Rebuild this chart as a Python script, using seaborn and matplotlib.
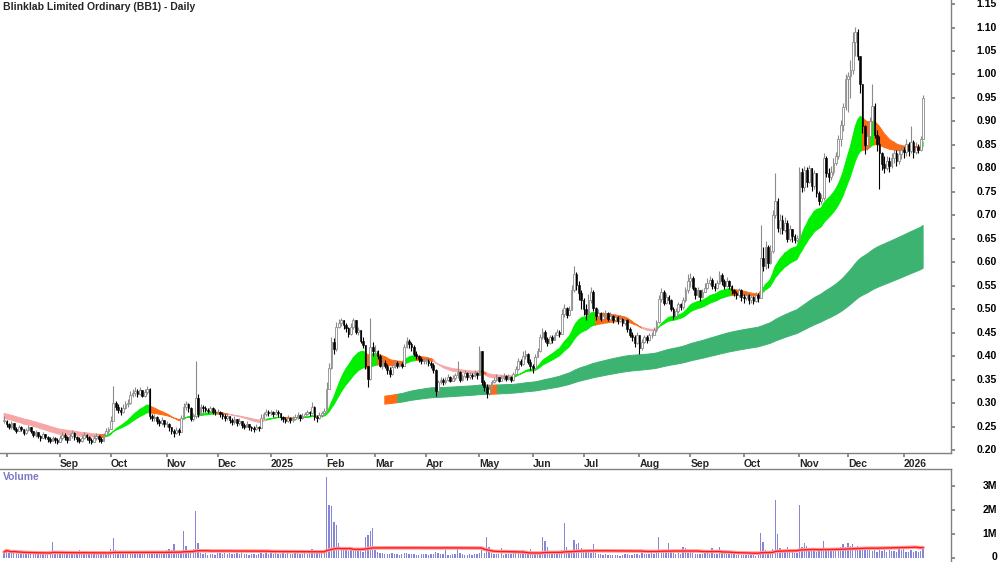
import numpy as np
import pandas as pd
import matplotlib
matplotlib.use("Agg")
import matplotlib.pyplot as plt
import seaborn as sns

TITLE = "Blinklab Limited Ordinary (BB1) - Daily"
START_DATE = "2024-07-31"

# daily prices in thousandths of a dollar (open = previous close)
close_px = [
    262, 255, 248, 258, 245, 240, 250, 244, 236, 242, 248, 240, 232, 238, 230, 226, 234, 228, 224, 220, 226, 222, 218,  # Jul31/Aug 24
    225, 232, 228, 222, 230, 236, 228, 224, 220, 226, 232, 228, 222, 218, 226, 230, 224, 220, 232, 240, 244,  # Sep
    262, 300, 292, 285, 280, 290, 298, 300, 318, 322, 326, 320, 328, 316, 324, 330, 272, 268, 270, 262, 258, 264, 256,  # Oct
    256, 248, 240, 236, 242, 238, 268, 292, 298, 290, 266, 272, 310, 276, 292, 290, 286, 284, 290, 282, 280,  # Nov
    282, 276, 272, 268, 272, 264, 260, 266, 258, 262, 254, 250, 256, 248, 246, 244, 250, 246, 268, 276, 282, 278,  # Dec
    280, 276, 282, 278, 270, 266, 262, 268, 264, 266, 270, 274, 268, 272, 276, 280, 278, 292, 270, 268, 274, 278, 284,  # Jan 25
    330, 375, 430, 415, 462, 470, 476, 466, 460, 448, 462, 476, 452, 456, 432, 424, 380, 352, 420, 410,  # Feb
    412, 400, 380, 386, 380, 370, 362, 376, 386, 380, 384, 380, 420, 432, 426, 420, 404, 400, 394, 390, 390,  # Mar
    390, 386, 382, 370, 326, 344, 350, 344, 350, 356, 348, 354, 360, 366, 350, 358, 364, 356, 360, 358, 364, 360,  # Apr
    410, 345, 334, 322, 330, 344, 350, 356, 348, 354, 358, 352, 356, 350, 362, 372, 390, 384, 400, 404, 388, 378,  # May
    374, 398, 410, 440, 452, 436, 428, 440, 434, 446, 452, 448, 490, 502, 488, 498, 540, 575, 552, 534, 520,  # Jun
    500, 490, 520, 536, 502, 486, 492, 480, 486, 492, 480, 486, 478, 484, 474, 480, 470, 476, 458, 446, 440, 428, 444,  # Jul
    418, 430, 440, 434, 444, 446, 456, 472, 522, 536, 514, 526, 520, 500, 486, 496, 510, 504, 520, 540, 560,  # Aug
    566, 546, 530, 540, 526, 536, 546, 556, 562, 550, 546, 556, 572, 560, 550, 560, 550, 540, 534, 530, 540, 526,  # Sep
    524, 530, 520, 526, 518, 530, 524, 610, 592, 632, 598, 624, 700, 730, 672, 690, 668, 684, 650, 670, 655, 648, 652,  # Oct
    792, 760, 796, 772, 800, 762, 790, 748, 730, 736, 822, 790, 782, 792, 812, 826, 862, 892, 930, 990,  # Nov
    996, 1010, 1070, 1090, 1040, 980, 890, 850, 868, 900, 932, 872, 852, 832, 810, 800, 816, 806, 822, 832, 816, 830, 840,  # Dec
    834, 852, 838, 856, 834, 846, 840, 862, 950,  # Jan 26
]
high_px = [
    272, 264, 258, 262, 258, 250, 254, 252, 244, 246, 254, 250, 240, 242, 238, 232, 238, 235, 230, 228, 230, 228, 226,
    232, 238, 236, 230, 236, 242, 238, 230, 228, 232, 238, 235, 230, 226, 232, 236, 232, 228, 236, 246, 250,
    272, 336, 305, 298, 292, 298, 304, 308, 325, 330, 334, 330, 334, 328, 330, 336, 332, 276, 276, 272, 266, 270, 265,
    262, 258, 250, 244, 248, 246, 274, 300, 304, 300, 292, 278, 390, 320, 298, 296, 294, 290, 294, 292, 288,
    288, 284, 280, 276, 278, 272, 268, 272, 266, 268, 262, 258, 262, 256, 252, 252, 256, 252, 276, 282, 288, 286,
    286, 284, 288, 286, 278, 272, 270, 274, 270, 272, 276, 280, 276, 278, 282, 286, 284, 302, 294, 274, 280, 284, 290,
    345, 385, 440, 438, 472, 480, 482, 478, 470, 462, 470, 482, 478, 462, 452, 440, 424, 372, 482, 430,
    424, 414, 404, 396, 392, 384, 376, 382, 392, 390, 390, 388, 426, 440, 436, 430, 424, 410, 402, 398, 396,
    398, 394, 390, 386, 372, 350, 356, 354, 356, 362, 358, 360, 364, 390, 368, 362, 370, 366, 366, 364, 370, 366,
    422, 400, 350, 340, 338, 350, 356, 362, 356, 360, 364, 360, 362, 358, 366, 378, 396, 394, 410, 414, 406, 394,
    384, 404, 418, 448, 460, 456, 440, 446, 444, 452, 458, 456, 500, 512, 504, 506, 552, 592, 580, 560, 540,
    524, 512, 532, 548, 540, 504, 500, 494, 494, 498, 494, 494, 488, 490, 486, 488, 482, 482, 480, 462, 452, 446, 452,
    432, 436, 446, 444, 450, 452, 462, 478, 530, 545, 540, 534, 530, 522, 504, 502, 516, 514, 526, 548, 575,
    578, 570, 548, 548, 540, 544, 556, 566, 570, 566, 556, 562, 582, 578, 564, 568, 562, 552, 544, 538, 546, 544,
    532, 536, 532, 532, 528, 536, 534, 680, 632, 646, 636, 636, 712, 790, 736, 702, 700, 696, 690, 680, 670, 660, 658,
    802, 800, 804, 802, 808, 800, 796, 788, 752, 746, 832, 826, 800, 804, 822, 834, 872, 904, 940, 1000,
    1005, 1030, 1090, 1102, 1096, 1040, 970, 892, 880, 910, 980, 940, 882, 870, 834, 826, 826, 824, 832, 842, 840, 842, 850,
    846, 862, 856, 890, 860, 856, 852, 870, 956,
]
low_px = [
    258, 250, 244, 244, 242, 236, 240, 240, 232, 234, 240, 236, 228, 228, 226, 220, 226, 224, 218, 215, 220, 216, 212,
    218, 222, 222, 216, 222, 226, 222, 218, 214, 218, 224, 222, 216, 212, 218, 222, 218, 214, 222, 230, 236,
    244, 262, 286, 278, 274, 278, 288, 292, 298, 312, 316, 312, 318, 312, 314, 320, 266, 262, 262, 256, 252, 254, 250,
    248, 240, 234, 228, 234, 232, 238, 266, 286, 282, 262, 262, 268, 270, 274, 282, 280, 278, 280, 276, 274,
    276, 270, 266, 262, 264, 258, 254, 256, 252, 254, 246, 244, 248, 242, 240, 238, 242, 240, 246, 266, 272, 272,
    274, 270, 274, 270, 264, 260, 258, 260, 258, 260, 264, 266, 262, 266, 270, 274, 272, 276, 264, 260, 266, 270, 276,
    300, 330, 372, 405, 412, 460, 464, 458, 452, 440, 446, 458, 448, 446, 428, 418, 372, 334, 350, 400,
    400, 394, 376, 372, 374, 362, 356, 360, 374, 374, 376, 374, 380, 418, 418, 412, 400, 394, 388, 384, 384,
    384, 380, 374, 364, 316, 322, 340, 338, 340, 346, 344, 346, 350, 354, 344, 346, 354, 350, 352, 352, 356, 352,
    360, 338, 326, 310, 318, 328, 342, 346, 344, 346, 350, 346, 350, 344, 348, 360, 370, 378, 382, 394, 384, 370,
    364, 370, 398, 408, 436, 430, 422, 426, 428, 436, 444, 440, 450, 484, 482, 486, 498, 536, 540, 520, 500,
    488, 478, 486, 514, 496, 478, 480, 474, 476, 482, 474, 476, 470, 474, 468, 472, 464, 466, 452, 440, 432, 420, 426,
    404, 414, 428, 428, 432, 438, 444, 452, 470, 516, 508, 510, 512, 496, 480, 484, 492, 498, 500, 516, 534,
    548, 540, 522, 526, 518, 524, 536, 544, 552, 544, 538, 544, 554, 552, 544, 548, 544, 532, 528, 522, 526, 518,
    514, 520, 512, 514, 512, 516, 516, 540, 582, 586, 588, 596, 620, 694, 664, 660, 660, 664, 644, 646, 644, 640, 644,
    660, 750, 752, 760, 768, 752, 756, 740, 722, 724, 732, 782, 772, 776, 786, 808, 820, 848, 880, 924,
    920, 950, 1000, 1040, 1030, 960, 876, 830, 840, 862, 880, 864, 838, 755, 796, 790, 796, 792, 800, 812, 806, 810, 820,
    822, 826, 826, 832, 822, 830, 832, 836, 862,
]
# daily volume in thousands of shares
volume_k = [
    230, 350, 210, 170, 300, 190, 160, 200, 140, 180, 220, 150, 170, 130, 190, 160, 140, 180, 200, 150, 650, 210, 170,
    160, 190, 140, 170, 210, 150, 130, 180, 300, 200, 160, 140, 170, 190, 150, 130, 160, 140, 180, 170, 210,
    350, 800, 300, 230, 250, 200, 220, 270, 210, 230, 190, 250, 220, 200, 240, 210, 260, 230, 200, 220, 250, 210, 240,
    300, 350, 320, 550, 200, 180, 250, 1100, 500, 200, 260, 350, 1950, 600, 180, 150, 200, 120, 140, 160, 110,
    180, 200, 150, 170, 140, 190, 160, 130, 170, 150, 180, 140, 160, 120, 150, 130, 110, 140, 190, 160, 170, 150,
    170, 150, 190, 160, 140, 180, 150, 170, 130, 160, 180, 300, 150, 140, 170, 160, 190, 350, 210, 170, 190, 200, 230,
    3400, 2200, 2150, 1500, 1350, 600, 400, 350, 300, 280, 320, 350, 260, 300, 280, 250, 850, 950, 1100, 1250,
    300, 220, 180, 200, 160, 150, 140, 170, 130, 150, 120, 160, 200, 180, 150, 130, 140, 120, 110, 150, 130,
    140, 120, 150, 160, 250, 180, 130, 140, 300, 120, 110, 130, 150, 350, 180, 130, 120, 110, 140, 120, 130, 150,
    200, 300, 180, 850, 450, 200, 150, 140, 160, 400, 120, 130, 140, 150, 200, 300, 180, 160, 300, 200, 180, 350,
    200, 220, 180, 240, 850, 700, 450, 200, 180, 160, 200, 150, 300, 1450, 450, 250, 220, 750, 550, 600, 400,
    300, 250, 280, 200, 550, 180, 160, 140, 120, 130, 100, 90, 110, 120, 100, 80, 110, 130, 150, 120, 100, 140, 160,
    120, 180, 150, 130, 160, 200, 140, 180, 850, 300, 250, 200, 600, 220, 180, 150, 170, 140, 450, 380, 200,
    220, 180, 160, 150, 130, 140, 170, 190, 160, 380, 150, 140, 450, 200, 180, 160, 140, 150, 130, 120, 140, 110,
    120, 100, 90, 110, 100, 80, 120, 1050, 650, 300, 250, 200, 350, 2400, 1000, 400, 300, 250, 450, 300, 250, 200, 180,
    2200, 450, 600, 500, 350, 300, 280, 250, 300, 260, 700, 350, 300, 280, 320, 350, 400, 450, 550, 450,
    600, 500, 550, 450, 500, 420, 380, 350, 300, 330, 280, 300, 250, 450, 280, 320, 250, 300, 260, 280, 240, 350, 300,
    350, 250, 220, 300, 250, 280, 230, 260, 450,
]

# indicator settings (ribbons of exponential moving averages)
SHORT_SPANS = (20, 35)
SHORT_SEEDS = (0.268, 0.279)
LONG_SPANS = (150, 250)
LONG_SEEDS = (0.30, 0.28)
LONG_BAND_START = "2025-03-07"
PINK_RANGES = [("2024-07-31", "2024-09-23"), ("2024-12-06", "2024-12-27"),
               ("2025-04-04", "2025-04-30"), ("2025-05-06", "2025-05-20"),
               ("2025-08-04", "2025-08-11")]
LONG_ORANGE_RANGES = [("2025-03-07", "2025-03-13"), ("2025-05-07", "2025-05-09")]
VOLUME_MA_WINDOW = 65

price_ticks = [round(0.20 + 0.05 * k, 2) for k in range(20)]
volume_ticks = [0, 1_000_000, 2_000_000, 3_000_000]
volume_tick_labels = ["0", "1M", "2M", "3M"]

# ---------------------------------------------------------------------------
n = min(len(close_px), len(high_px), len(low_px), len(volume_k))
dates = pd.bdate_range(START_DATE, periods=n)
close = np.array(close_px[:n]) / 1000.0
high = np.array(high_px[:n]) / 1000.0
low = np.array(low_px[:n]) / 1000.0
opn = np.concatenate([[close[0]], close[:-1]])
high = np.maximum(high, np.maximum(opn, close))
low = np.minimum(low, np.minimum(opn, close))
vol = np.array(volume_k[:n]) * 1000.0
idx = np.arange(n)


def ema(values, span, seed):
    a = 2.0 / (span + 1.0)
    out = np.empty_like(values)
    prev = seed
    for k, v in enumerate(values):
        prev = prev + a * (v - prev)
        out[k] = prev
    return out


def in_ranges(ranges):
    m = np.zeros(n, dtype=bool)
    for s, e in ranges:
        m |= (dates >= pd.Timestamp(s)) & (dates <= pd.Timestamp(e))
    return m


def fill_states(ax, x, lo, hi, states, colors, z):
    for key, col in colors.items():
        m = states == key
        m2 = m.copy()
        m2[1:] |= m[:-1]
        ax.fill_between(x, lo, hi, where=m2, facecolor=col, edgecolor=col,
                        linewidth=0.7, zorder=z)


s_fast = ema(close, SHORT_SPANS[0], SHORT_SEEDS[0])
s_slow = ema(close, SHORT_SPANS[1], SHORT_SEEDS[1])
l_fast = ema(close, LONG_SPANS[0], LONG_SEEDS[0])
l_slow = ema(close, LONG_SPANS[1], LONG_SEEDS[1])

pink = in_ranges(PINK_RANGES)
rising = np.concatenate([[False], np.diff(s_fast) >= 0])
short_state = np.where(pink, "p", np.where(rising, "g", "o"))
long_orange = in_ranges(LONG_ORANGE_RANGES)
long_state = np.where(long_orange, "o", "g")
long_mask = dates >= pd.Timestamp(LONG_BAND_START)

vol_ma = pd.Series(vol).rolling(VOLUME_MA_WINDOW, min_periods=1).mean().values

# ---------------------------------------------------------------------------
sns.set_theme(style="white")
plt.rcParams["font.family"] = ["Liberation Sans", "DejaVu Sans"]

W, H = 1000, 562
fig = plt.figure(figsize=(W / 100, H / 100), dpi=100)
ax = fig.add_axes([0, 1 - 453 / H, 951 / W, 453 / H])
axv = fig.add_axes([0, 0, 951 / W, 93 / H])

xlim = (-1.7, n - 1 + 11.5)
GREY = "#808080"
LABEL_X = 997 / 951  # right edge of the axis labels, in axes fraction

# long-term ribbon
lx = idx[long_mask]
fill_states(ax, lx, np.minimum(l_fast, l_slow)[long_mask], np.maximum(l_fast, l_slow)[long_mask],
            long_state[long_mask], {"g": "#3cb371", "o": "#ff6a13"}, 1)
# short-term ribbon
fill_states(ax, idx, np.minimum(s_fast, s_slow), np.maximum(s_fast, s_slow), short_state,
            {"g": "#00f000", "o": "#ff6a13", "p": "#f7a6a6"}, 2)

# candles
up = close >= opn
ax.vlines(idx[up], low[up], high[up], color="#8c8c8c", linewidth=0.8, zorder=3)
ax.vlines(idx[~up], low[~up], high[~up], color="black", linewidth=0.8, zorder=3)
body_lo = np.minimum(opn, close)
body_h = np.maximum(np.abs(close - opn), 0.002)
ax.bar(idx[up], body_h[up], bottom=body_lo[up], width=0.7, color="white",
       edgecolor="#8c8c8c", linewidth=0.6, zorder=4)
ax.bar(idx[~up], body_h[~up], bottom=body_lo[~up], width=0.7, color="black",
       edgecolor="black", linewidth=0.4, zorder=4)

ax.set_xlim(*xlim)
ax.set_ylim(1.1587 - 453 / 469.4, 1.1587)
for s in ["top", "left"]:
    ax.spines[s].set_visible(False)
for s in ["right", "bottom"]:
    ax.spines[s].set_color(GREY)
    ax.spines[s].set_linewidth(1)

ax.yaxis.tick_right()
ax.set_yticks(price_ticks)
ax.tick_params(axis="y", direction="out", length=3, color=GREY, right=True, left=False,
               labelright=False, labelleft=False)
ytr = ax.get_yaxis_transform()
for v in price_ticks:
    ax.text(LABEL_X, v, f"{v:.2f}", transform=ytr, ha="right", va="center",
            fontsize=7.5, fontweight="bold", color="black")

# month ticks
month_start = pd.Series(dates).dt.to_period("M")
first_of_month = np.where(month_start.values[1:] != month_start.values[:-1])[0] + 1
tick_pos, tick_lab = [], []
for p in first_of_month:
    d = dates[p]
    tick_pos.append(p)
    if d < pd.Timestamp("2024-09-01"):
        tick_lab.append("")
    else:
        tick_lab.append(str(d.year) if d.month == 1 else d.strftime("%b"))
ax.set_xticks(tick_pos)
ax.set_xticklabels(tick_lab, fontsize=7.5, fontweight="bold", ha="left")
ax.tick_params(axis="x", direction="out", length=3, color=GREY, pad=1, bottom=True)

# volume panel
axv.bar(idx, vol, width=0.55, color="#8686d8", linewidth=0, zorder=2)
sns.lineplot(x=idx, y=vol_ma, ax=axv, color="#ff9c9c", linewidth=2.6, zorder=3)
sns.lineplot(x=idx, y=vol_ma, ax=axv, color="#ff1a1a", linewidth=1.0, zorder=4)
axv.set_xlim(*xlim)
axv.set_ylim(-4.5 / 23.8 * 1e6, (93 - 4.5) / 23.8 * 1e6)
axv.set_xticks([])
axv.set_xlabel("")
axv.set_ylabel("")
for s in ["bottom", "left"]:
    axv.spines[s].set_visible(False)
for s in ["right", "top"]:
    axv.spines[s].set_color(GREY)
    axv.spines[s].set_linewidth(1)
axv.yaxis.tick_right()
axv.set_yticks(volume_ticks)
axv.tick_params(axis="y", direction="out", length=3, color=GREY, right=True, left=False,
                labelright=False, labelleft=False)
vtr = axv.get_yaxis_transform()
for v, lab in zip(volume_ticks, volume_tick_labels):
    axv.text(LABEL_X, v, lab, transform=vtr, ha="right", va="center",
             fontsize=7.5, fontweight="bold", color="black")

fig.text(3 / W, 1 - 2 / H, TITLE, fontsize=7.5, fontweight="bold", va="top", ha="left")
fig.text(3 / W, 1 - 472 / H, "Volume", fontsize=7.5, fontweight="bold", va="top", ha="left",
         color="#7b7bc4")

fig.savefig("out.png", dpi=100, facecolor="white")
